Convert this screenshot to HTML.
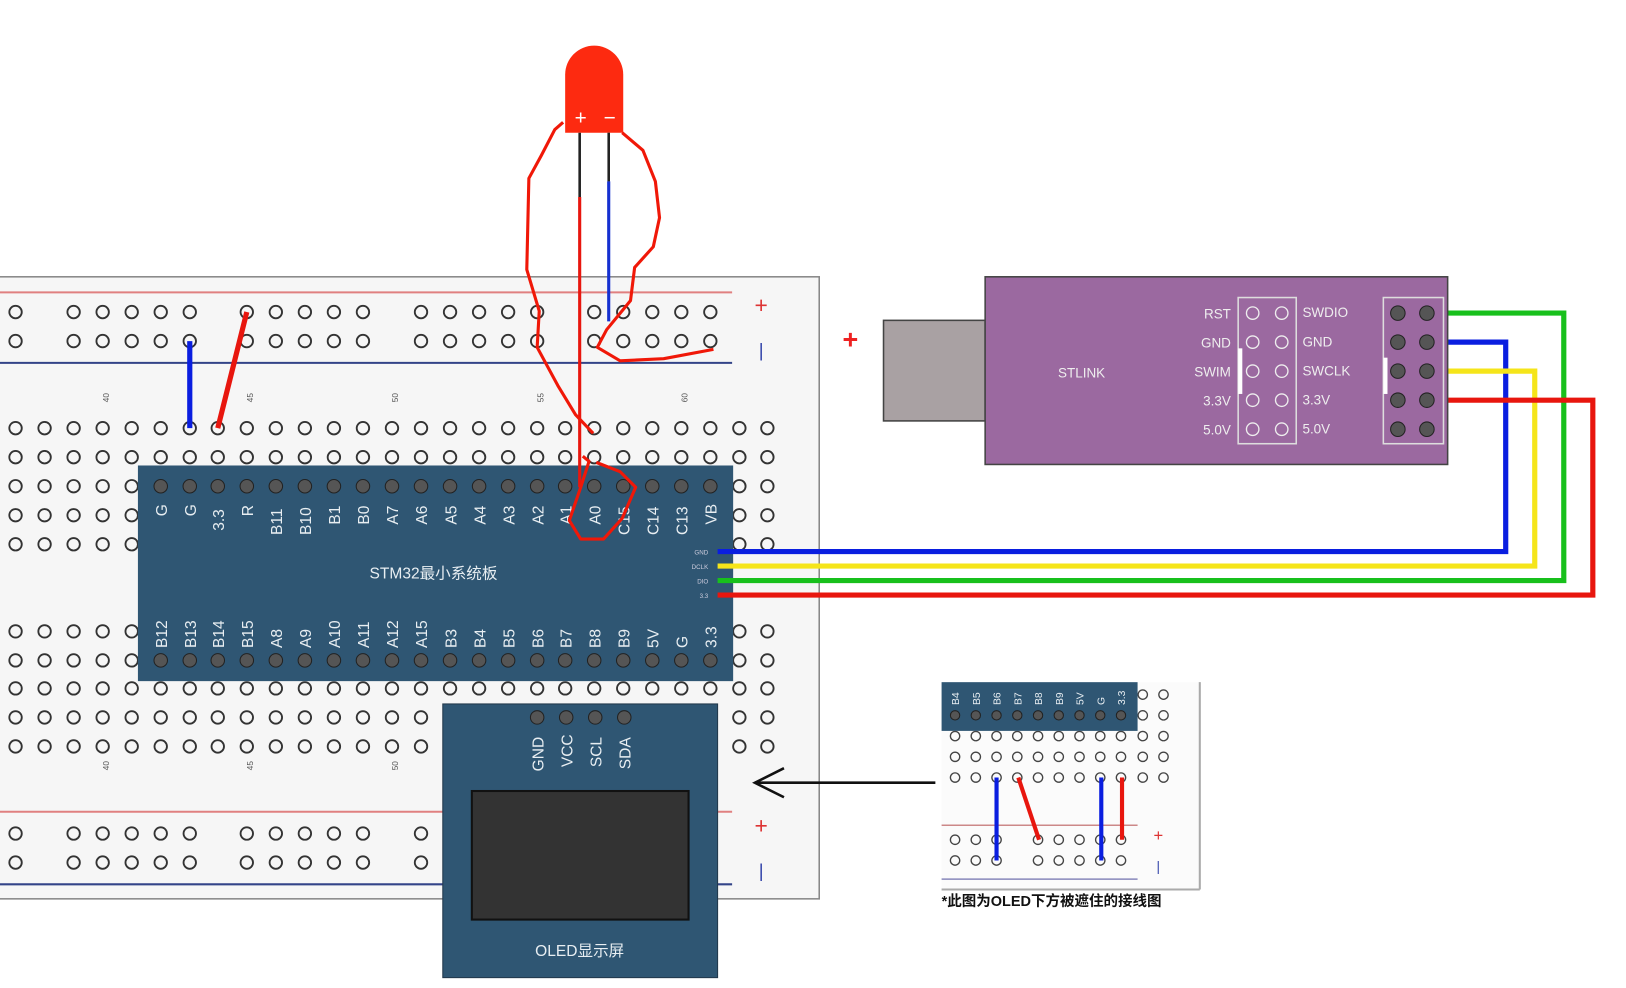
<!DOCTYPE html>
<html><head><meta charset="utf-8"><style>
html,body{margin:0;padding:0;background:#fff;}
svg{display:block;}
text{font-family:"Liberation Sans","Noto Sans CJK SC",sans-serif;}
</style></head><body>
<svg width="1626" height="988" viewBox="0 0 1568 953" preserveAspectRatio="none" xmlns="http://www.w3.org/2000/svg">
<defs>
<g id="rail">
<circle cx="15" cy="0" r="6"/>
<circle cx="71" cy="0" r="6"/><circle cx="99" cy="0" r="6"/><circle cx="127" cy="0" r="6"/><circle cx="155" cy="0" r="6"/><circle cx="183" cy="0" r="6"/>
<circle cx="238" cy="0" r="6"/><circle cx="266" cy="0" r="6"/><circle cx="294" cy="0" r="6"/><circle cx="322" cy="0" r="6"/><circle cx="350" cy="0" r="6"/>
<circle cx="406" cy="0" r="6"/><circle cx="434" cy="0" r="6"/><circle cx="462" cy="0" r="6"/><circle cx="490" cy="0" r="6"/><circle cx="518" cy="0" r="6"/>
<circle cx="573" cy="0" r="6"/><circle cx="601" cy="0" r="6"/><circle cx="629" cy="0" r="6"/><circle cx="657" cy="0" r="6"/><circle cx="685" cy="0" r="6"/>
</g>
<g id="brail">
<circle cx="15" cy="0" r="6"/>
<circle cx="71" cy="0" r="6"/><circle cx="99" cy="0" r="6"/><circle cx="127" cy="0" r="6"/><circle cx="155" cy="0" r="6"/><circle cx="183" cy="0" r="6"/>
<circle cx="238" cy="0" r="6"/><circle cx="266" cy="0" r="6"/><circle cx="294" cy="0" r="6"/><circle cx="322" cy="0" r="6"/><circle cx="350" cy="0" r="6"/>
<circle cx="406" cy="0" r="6"/>
</g>
<g id="row">
<circle cx="15" cy="0" r="6"/><circle cx="43" cy="0" r="6"/><circle cx="71" cy="0" r="6"/><circle cx="99" cy="0" r="6"/><circle cx="127" cy="0" r="6"/><circle cx="155" cy="0" r="6"/><circle cx="183" cy="0" r="6"/><circle cx="210" cy="0" r="6"/><circle cx="238" cy="0" r="6"/><circle cx="266" cy="0" r="6"/><circle cx="294" cy="0" r="6"/><circle cx="322" cy="0" r="6"/><circle cx="350" cy="0" r="6"/><circle cx="378" cy="0" r="6"/><circle cx="406" cy="0" r="6"/><circle cx="434" cy="0" r="6"/><circle cx="462" cy="0" r="6"/><circle cx="490" cy="0" r="6"/><circle cx="518" cy="0" r="6"/><circle cx="545" cy="0" r="6"/><circle cx="573" cy="0" r="6"/><circle cx="601" cy="0" r="6"/><circle cx="629" cy="0" r="6"/><circle cx="657" cy="0" r="6"/><circle cx="685" cy="0" r="6"/><circle cx="713" cy="0" r="6"/><circle cx="740" cy="0" r="6"/>
</g>
<g id="pins"><circle cx="155" cy="0" r="6.5"/><circle cx="183" cy="0" r="6.5"/><circle cx="210" cy="0" r="6.5"/><circle cx="238" cy="0" r="6.5"/><circle cx="266" cy="0" r="6.5"/><circle cx="294" cy="0" r="6.5"/><circle cx="322" cy="0" r="6.5"/><circle cx="350" cy="0" r="6.5"/><circle cx="378" cy="0" r="6.5"/><circle cx="406" cy="0" r="6.5"/><circle cx="434" cy="0" r="6.5"/><circle cx="462" cy="0" r="6.5"/><circle cx="490" cy="0" r="6.5"/><circle cx="518" cy="0" r="6.5"/><circle cx="545" cy="0" r="6.5"/><circle cx="573" cy="0" r="6.5"/><circle cx="601" cy="0" r="6.5"/><circle cx="629" cy="0" r="6.5"/><circle cx="657" cy="0" r="6.5"/><circle cx="685" cy="0" r="6.5"/></g>
<g id="irow"><circle cx="921" cy="0" r="4.5"/><circle cx="941" cy="0" r="4.5"/><circle cx="961" cy="0" r="4.5"/><circle cx="981" cy="0" r="4.5"/><circle cx="1001" cy="0" r="4.5"/><circle cx="1021" cy="0" r="4.5"/><circle cx="1041" cy="0" r="4.5"/><circle cx="1061" cy="0" r="4.5"/><circle cx="1081" cy="0" r="4.5"/><circle cx="1102" cy="0" r="4.5"/><circle cx="1122" cy="0" r="4.5"/></g>
<g id="ir2"><circle cx="921" cy="0" r="4.5"/><circle cx="941" cy="0" r="4.5"/><circle cx="961" cy="0" r="4.5"/><circle cx="1001" cy="0" r="4.5"/><circle cx="1021" cy="0" r="4.5"/><circle cx="1041" cy="0" r="4.5"/><circle cx="1061" cy="0" r="4.5"/><circle cx="1081" cy="0" r="4.5"/></g>
</defs>
<rect width="1568" height="953" fill="#fff"/>
<!-- breadboard -->
<rect x="-2" y="267" width="792" height="600" fill="#f6f6f6" stroke="#888" stroke-width="1.5"/>
<line x1="0" y1="282" x2="706" y2="282" stroke="#e08080" stroke-width="2"/>
<line x1="0" y1="350" x2="706" y2="350" stroke="#334488" stroke-width="2"/>
<line x1="0" y1="783" x2="706" y2="783" stroke="#e08080" stroke-width="2"/>
<line x1="0" y1="853" x2="706" y2="853" stroke="#334488" stroke-width="2"/>
<g fill="none" stroke="#333" stroke-width="1.8">
<use href="#rail" y="301"/><use href="#rail" y="329"/>
<use href="#brail" y="804"/><use href="#brail" y="832"/>
<use href="#row" y="413"/><use href="#row" y="441"/><use href="#row" y="469"/><use href="#row" y="497"/><use href="#row" y="525"/>
<use href="#row" y="609"/><use href="#row" y="637"/><use href="#row" y="664"/><use href="#row" y="692"/><use href="#row" y="720"/>
</g>
<g font-size="8" fill="#555">
<text x="101" y="392" transform="rotate(-90 101 388)">40</text>
<text x="240" y="392" transform="rotate(-90 240 388)">45</text>
<text x="380" y="392" transform="rotate(-90 380 388)">50</text>
<text x="520" y="392" transform="rotate(-90 520 388)">55</text>
<text x="659" y="392" transform="rotate(-90 659 388)">60</text>
<text x="101" y="747" transform="rotate(-90 101 743)">40</text>
<text x="240" y="747" transform="rotate(-90 240 743)">45</text>
<text x="380" y="747" transform="rotate(-90 380 743)">50</text>
</g>
<g font-size="22" text-anchor="middle">
<text x="734" y="302" fill="#d33">+</text><text x="734" y="344" fill="#34a" font-size="18">|</text>
<text x="734" y="804" fill="#d33">+</text><text x="734" y="846" fill="#34a" font-size="18">|</text>
</g>
<!-- STM32 -->
<rect x="133" y="449" width="574" height="208" fill="#2f5673"/>
<g fill="#555" stroke="#222" stroke-width="1">
<use href="#pins" y="469"/><use href="#pins" y="637"/>
</g>
<g font-size="15" fill="#e8eef2">
<text transform="translate(161,498) rotate(-90)">G</text>
<text transform="translate(189,498) rotate(-90)">G</text>
<text transform="translate(216,512) rotate(-90)">3.3</text>
<text transform="translate(244,498) rotate(-90)">R</text>
<text transform="translate(272,516) rotate(-90)">B11</text>
<text transform="translate(300,516) rotate(-90)">B10</text>
<text transform="translate(328,506) rotate(-90)">B1</text>
<text transform="translate(356,506) rotate(-90)">B0</text>
<text transform="translate(384,506) rotate(-90)">A7</text>
<text transform="translate(412,506) rotate(-90)">A6</text>
<text transform="translate(440,506) rotate(-90)">A5</text>
<text transform="translate(468,506) rotate(-90)">A4</text>
<text transform="translate(496,506) rotate(-90)">A3</text>
<text transform="translate(524,506) rotate(-90)">A2</text>
<text transform="translate(551,506) rotate(-90)">A1</text>
<text transform="translate(579,506) rotate(-90)">A0</text>
<text transform="translate(607,516) rotate(-90)">C15</text>
<text transform="translate(635,516) rotate(-90)">C14</text>
<text transform="translate(663,516) rotate(-90)">C13</text>
<text transform="translate(691,506) rotate(-90)">VB</text>
<text transform="translate(161,625) rotate(-90)">B12</text>
<text transform="translate(189,625) rotate(-90)">B13</text>
<text transform="translate(216,625) rotate(-90)">B14</text>
<text transform="translate(244,625) rotate(-90)">B15</text>
<text transform="translate(272,625) rotate(-90)">A8</text>
<text transform="translate(300,625) rotate(-90)">A9</text>
<text transform="translate(328,625) rotate(-90)">A10</text>
<text transform="translate(356,625) rotate(-90)">A11</text>
<text transform="translate(384,625) rotate(-90)">A12</text>
<text transform="translate(412,625) rotate(-90)">A15</text>
<text transform="translate(440,625) rotate(-90)">B3</text>
<text transform="translate(468,625) rotate(-90)">B4</text>
<text transform="translate(496,625) rotate(-90)">B5</text>
<text transform="translate(524,625) rotate(-90)">B6</text>
<text transform="translate(551,625) rotate(-90)">B7</text>
<text transform="translate(579,625) rotate(-90)">B8</text>
<text transform="translate(607,625) rotate(-90)">B9</text>
<text transform="translate(635,625) rotate(-90)">5V</text>
<text transform="translate(663,625) rotate(-90)">G</text>
<text transform="translate(691,625) rotate(-90)">3.3</text>
</g>
<text x="418" y="558" font-size="15" fill="#e8eef2" text-anchor="middle">STM32最小系统板</text>
<g font-size="6" fill="#ccd" text-anchor="end">
<text x="683" y="535">GND</text><text x="683" y="549">DCLK</text><text x="683" y="563">DIO</text><text x="683" y="577">3.3</text>
</g>
<!-- wires -->
<g fill="none" stroke-width="5" stroke-linejoin="miter">
<polyline points="692,532 1452,532 1452,330 1378,330" stroke="#0a1ee0"/>
<polyline points="692,546 1480,546 1480,358 1378,358" stroke="#f5e51a"/>
<polyline points="692,560 1508,560 1508,302 1378,302" stroke="#18c01c"/>
<polyline points="692,574 1536,574 1536,386 1378,386" stroke="#e8160e"/>
</g>
<!-- STLINK -->
<rect x="852" y="309" width="98" height="97" fill="#a9a1a3" stroke="#444" stroke-width="1.5"/>
<rect x="950" y="267" width="446" height="181" fill="#9b69a0" stroke="#444" stroke-width="1.5"/>
<text x="1043" y="364" font-size="13" fill="#eee" text-anchor="middle">STLINK</text>
<g font-size="13" fill="#eee" text-anchor="end">
<text x="1187" y="307">RST</text><text x="1187" y="335">GND</text><text x="1187" y="363">SWIM</text><text x="1187" y="391">3.3V</text><text x="1187" y="419">5.0V</text>
</g>
<g font-size="13" fill="#eee">
<text x="1256" y="306">SWDIO</text><text x="1256" y="334">GND</text><text x="1256" y="362">SWCLK</text><text x="1256" y="390">3.3V</text><text x="1256" y="418">5.0V</text>
</g>
<rect x="1194" y="287" width="56" height="141" fill="none" stroke="#ddd" stroke-width="1.5"/>
<rect x="1194" y="336" width="4" height="44" fill="#fff"/>
<rect x="1334" y="287" width="58" height="141" fill="none" stroke="#ddd" stroke-width="1.5"/>
<rect x="1334" y="345" width="4" height="35" fill="#fff"/>
<g fill="none" stroke="#eee" stroke-width="1.3">
<circle cx="1208" cy="302" r="6"/><circle cx="1236" cy="302" r="6"/><circle cx="1208" cy="330" r="6"/><circle cx="1236" cy="330" r="6"/><circle cx="1208" cy="358" r="6"/><circle cx="1236" cy="358" r="6"/><circle cx="1208" cy="386" r="6"/><circle cx="1236" cy="386" r="6"/><circle cx="1208" cy="414" r="6"/><circle cx="1236" cy="414" r="6"/>
</g>
<g fill="#555" stroke="#222">
<circle cx="1348" cy="302" r="7"/><circle cx="1376" cy="302" r="7"/><circle cx="1348" cy="330" r="7"/><circle cx="1376" cy="330" r="7"/><circle cx="1348" cy="358" r="7"/><circle cx="1376" cy="358" r="7"/><circle cx="1348" cy="386" r="7"/><circle cx="1376" cy="386" r="7"/><circle cx="1348" cy="414" r="7"/><circle cx="1376" cy="414" r="7"/>
</g>
<text x="820" y="336" font-size="26" fill="#e22" text-anchor="middle" font-weight="bold">+</text>
<!-- short wires -->
<line x1="183" y1="329" x2="183" y2="413" stroke="#0a1ee0" stroke-width="5"/>
<line x1="238" y1="301" x2="210" y2="413" stroke="#e8160e" stroke-width="5"/>
<!-- LED -->
<path d="M545,128 L545,72 A28,28 0 0 1 601,72 L601,128 Z" fill="#fd2a10"/>
<text x="560" y="120" font-size="20" fill="#fff" text-anchor="middle">+</text>
<text x="588" y="120" font-size="20" fill="#fff" text-anchor="middle">−</text>
<line x1="559" y1="128" x2="559" y2="190" stroke="#222" stroke-width="2.5"/>
<line x1="587" y1="128" x2="587" y2="175" stroke="#222" stroke-width="2.5"/>
<line x1="587" y1="175" x2="587" y2="310" stroke="#1530d0" stroke-width="3"/>
<line x1="559" y1="190" x2="559" y2="470" stroke="#e8160e" stroke-width="3"/>
<g fill="none" stroke="#f01808" stroke-width="3" stroke-linejoin="round">
<path d="M543,118 L535,125 L522,150 L510,172 L508,260 L520,300 L518,335 L538,372 L555,400 L572,418"/>
<path d="M600,128 L620,145 L632,175 L636,210 L630,238 L612,258 L608,290 L585,318 L576,335 L598,348 L640,346 L688,337"/>
<path d="M562,440 L568,445 L560,470 L549,502 L560,520 L582,520 L600,500 L613,470 L598,455 L575,446"/>
</g>
<!-- OLED -->
<rect x="427" y="679" width="265" height="264" fill="#2f5673" stroke="#22384b"/>
<g fill="#555" stroke="#222"><circle cx="518" cy="692" r="6.5"/><circle cx="546" cy="692" r="6.5"/><circle cx="574" cy="692" r="6.5"/><circle cx="602" cy="692" r="6.5"/></g>
<g font-size="15" fill="#e8eef2">
<text transform="translate(524,744) rotate(-90)">GND</text>
<text transform="translate(552,740) rotate(-90)">VCC</text>
<text transform="translate(580,740) rotate(-90)">SCL</text>
<text transform="translate(608,742) rotate(-90)">SDA</text>
</g>
<rect x="455" y="763" width="209" height="124" fill="#333" stroke="#111" stroke-width="2"/>
<text x="559" y="922" font-size="15" fill="#e8eef2" text-anchor="middle">OLED显示屏</text>
<!-- arrow -->
<line x1="902" y1="755" x2="728" y2="755" stroke="#111" stroke-width="2.5"/>
<polyline points="756,741 728,755 756,769" fill="none" stroke="#111" stroke-width="2.5"/>
<!-- inset -->
<rect x="908" y="658" width="249" height="200" fill="#fbfbfb"/>
<line x1="1157" y1="658" x2="1157" y2="858" stroke="#aaa" stroke-width="2"/>
<line x1="908" y1="858" x2="1157" y2="858" stroke="#aaa" stroke-width="2"/>
<line x1="908" y1="796" x2="1097" y2="796" stroke="#c88" stroke-width="1.5"/>
<line x1="908" y1="848" x2="1097" y2="848" stroke="#88b" stroke-width="1.5"/>
<g fill="none" stroke="#444" stroke-width="1.3">
<use href="#irow" y="710"/><use href="#irow" y="730"/><use href="#irow" y="750"/>
<circle cx="1102" cy="670" r="4.5"/><circle cx="1122" cy="670" r="4.5"/><circle cx="1102" cy="690" r="4.5"/><circle cx="1122" cy="690" r="4.5"/>
<use href="#ir2" y="810"/><use href="#ir2" y="830"/>
</g>
<rect x="908" y="658" width="189" height="47" fill="#2f5673"/>
<g fill="#555" stroke="#222"><circle cx="921" cy="690" r="4.5"/><circle cx="941" cy="690" r="4.5"/><circle cx="961" cy="690" r="4.5"/><circle cx="981" cy="690" r="4.5"/><circle cx="1001" cy="690" r="4.5"/><circle cx="1021" cy="690" r="4.5"/><circle cx="1041" cy="690" r="4.5"/><circle cx="1061" cy="690" r="4.5"/><circle cx="1081" cy="690" r="4.5"/></g>
<g font-size="10" fill="#e8eef2">
<text transform="translate(925,680) rotate(-90)">B4</text><text transform="translate(945,680) rotate(-90)">B5</text><text transform="translate(965,680) rotate(-90)">B6</text><text transform="translate(985,680) rotate(-90)">B7</text><text transform="translate(1005,680) rotate(-90)">B8</text><text transform="translate(1025,680) rotate(-90)">B9</text><text transform="translate(1045,680) rotate(-90)">5V</text><text transform="translate(1065,680) rotate(-90)">G</text><text transform="translate(1085,680) rotate(-90)">3.3</text>
</g>
<g stroke-width="4">
<line x1="961" y1="750" x2="961" y2="830" stroke="#0a1ee0"/>
<line x1="982" y1="750" x2="1002" y2="810" stroke="#e8160e"/>
<line x1="1062" y1="750" x2="1062" y2="830" stroke="#0a1ee0"/>
<line x1="1082" y1="750" x2="1082" y2="810" stroke="#e8160e"/>
</g>
<text x="1117" y="811" font-size="16" fill="#d33" text-anchor="middle">+</text>
<text x="1117" y="840" font-size="13" fill="#34a" text-anchor="middle">|</text>
<text x="908" y="874" font-size="14" fill="#111" font-weight="bold">*此图为OLED下方被遮住的接线图</text>
</svg>
</body></html>
